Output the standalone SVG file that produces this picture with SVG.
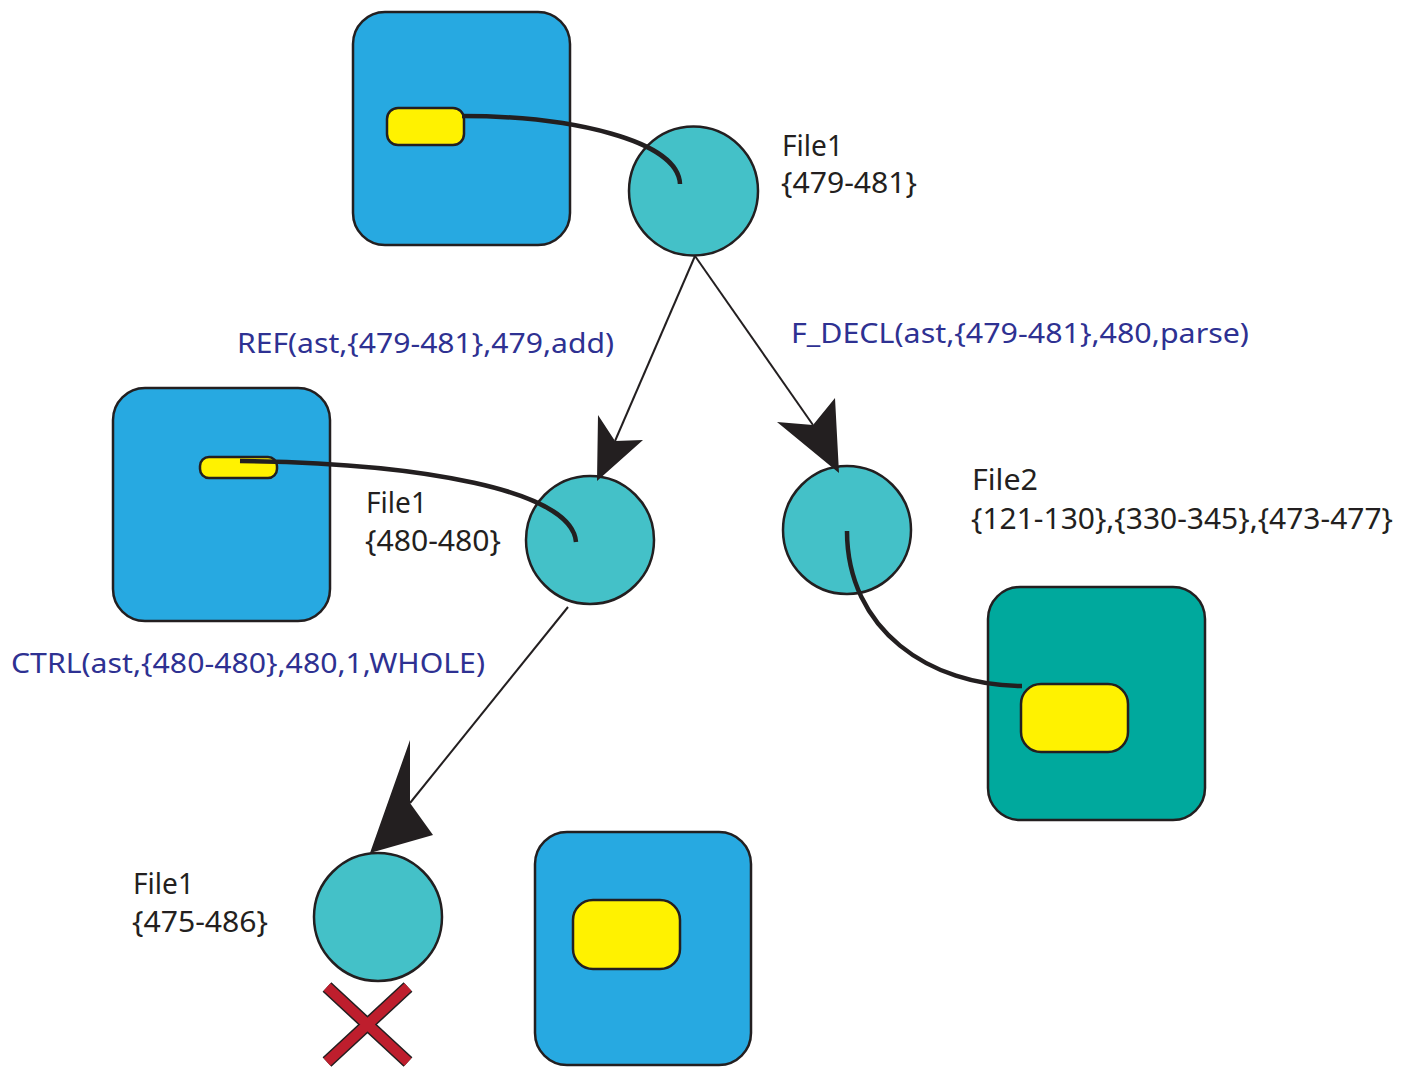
<svg xmlns="http://www.w3.org/2000/svg" width="1403" height="1071" viewBox="0 0 1403 1071">
<style>
.box{fill:#27a9e1;stroke:#231f20;stroke-width:2.5}
.tbox{fill:#00a99d;stroke:#231f20;stroke-width:2.5}
.yel{fill:#fff200;stroke:#231f20;stroke-width:2.5}
.node{fill:#44c1c8;stroke:#231f20;stroke-width:2.5}
.lbl{font-family:"Noto Sans","Liberation Sans",sans-serif;font-size:29px;fill:#231f20}
.elbl{font-family:"Noto Sans","Liberation Sans",sans-serif;font-size:28px;fill:#2e3192}
.edge{fill:none;stroke:#231f20;stroke-width:2}
.head{fill:#231f20}
.link{fill:none;stroke:#231f20;stroke-width:4.5}
</style>
<rect width="1403" height="1071" fill="#ffffff"/>
<g id="box1"><rect class="box" x="353" y="12" width="217" height="233" rx="32"/><rect class="yel" x="387" y="108" width="77" height="37" rx="11"/></g>
<g id="box2"><rect class="box" x="113" y="388" width="217" height="233" rx="32"/><rect class="yel" x="200" y="457" width="77" height="21" rx="9"/></g>
<g id="box3"><rect class="tbox" x="988" y="587" width="217" height="233" rx="32"/><rect class="yel" x="1021" y="684" width="107" height="68" rx="20"/></g>
<g id="box4"><rect class="box" x="535" y="832" width="216" height="233" rx="32"/><rect class="yel" x="573" y="900" width="107" height="69" rx="20"/></g>
<g id="n1"><circle class="node" cx="693.5" cy="191" r="64.5"/><text class="lbl" x="782" y="156" textLength="61" lengthAdjust="spacingAndGlyphs">File1</text><text class="lbl" x="781" y="193" textLength="136" lengthAdjust="spacingAndGlyphs">{479-481}</text></g>
<g id="n2"><circle class="node" cx="590" cy="540" r="64"/><text class="lbl" x="366" y="513" textLength="61" lengthAdjust="spacingAndGlyphs">File1</text><text class="lbl" x="365" y="551" textLength="136" lengthAdjust="spacingAndGlyphs">{480-480}</text></g>
<g id="n3"><circle class="node" cx="847" cy="530" r="64"/><text class="lbl" x="972" y="490" textLength="66" lengthAdjust="spacingAndGlyphs">File2</text><text class="lbl" x="971" y="529" textLength="422" lengthAdjust="spacingAndGlyphs">{121-130},{330-345},{473-477}</text></g>
<g id="n4"><circle class="node" cx="378" cy="917" r="64"/><text class="lbl" x="133" y="894" textLength="61" lengthAdjust="spacingAndGlyphs">File1</text><text class="lbl" x="132" y="932" textLength="136" lengthAdjust="spacingAndGlyphs">{475-486}</text>
<g id="cross"><path d="M327,987 L408,1062 M408,987 L327,1062" stroke="#231f20" stroke-width="13" fill="none"/><path d="M327,987 L408,1062 M408,987 L327,1062" stroke="#be1e2d" stroke-width="10" fill="none"/></g></g>
<g id="connectors">
<line class="edge" x1="695" y1="256" x2="615" y2="441"/>
<polygon class="head" points="597,481 598,415 615,441 643,440"/>
<line class="edge" x1="695" y1="256" x2="813" y2="425"/>
<polygon class="head" points="839,473 777,422 813,425 835,398"/>
<line class="edge" x1="568" y1="607" x2="410" y2="803"/>
<polygon class="head" points="370,853 410,740 410,803 433,835"/>
<path class="link" d="M462,116 C570,116 678,140 680,184"/>
<path class="link" d="M240,461 C420,463 572,490 576,542"/>
<path class="link" d="M847,531 C847,630 930,686 1022,686"/>
<text class="elbl" x="237" y="353" textLength="377" lengthAdjust="spacingAndGlyphs">REF(ast,{479-481},479,add)</text>
<text class="elbl" x="791" y="343" textLength="458" lengthAdjust="spacingAndGlyphs">F_DECL(ast,{479-481},480,parse)</text>
<text class="elbl" x="11" y="673" textLength="474" lengthAdjust="spacingAndGlyphs">CTRL(ast,{480-480},480,1,WHOLE)</text>
</g>
</svg>
